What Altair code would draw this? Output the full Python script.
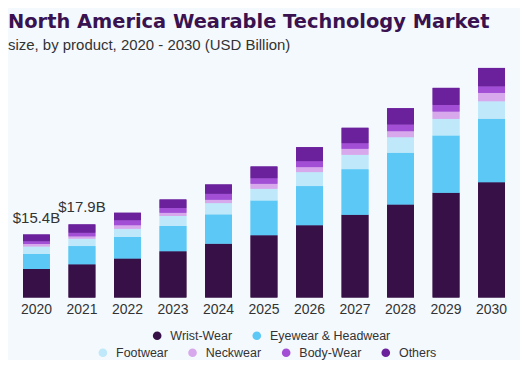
import altair as alt
import pandas as pd

years = ["2020", "2021", "2022", "2023", "2024", "2025", "2026", "2027", "2028", "2029", "2030"]
series = ["Wrist-Wear", "Eyewear & Headwear", "Footwear", "Neckwear", "Body-Wear", "Others"]
colors = ["#371047", "#5bc8f5", "#bfe8fa", "#d7a9ec", "#a24fd6", "#6b209c"]

wrist = [7.00, 8.14, 9.54, 11.32, 13.20, 15.23, 17.68, 20.29, 22.81, 25.67, 28.26]
eyewear = [3.67, 4.47, 5.28, 6.19, 7.16, 8.56, 9.61, 11.15, 12.64, 14.01, 15.50]
footwear = [1.81, 1.81, 2.05, 2.44, 2.76, 2.86, 3.42, 3.52, 3.81, 4.08, 4.30]
neckwear = [0.64, 0.56, 0.81, 0.81, 0.83, 1.22, 1.22, 1.47, 1.47, 1.78, 2.05]
bodywear = [0.66, 0.90, 1.22, 1.15, 1.47, 1.37, 1.47, 1.37, 1.64, 1.64, 1.61]
others = [1.64, 2.03, 1.88, 2.13, 2.27, 2.86, 3.42, 3.77, 3.99, 4.16, 4.50]
annotations = ["$15.4B", "$17.9B", "", "", "", "", "", "", "", "", ""]

values = [wrist, eyewear, footwear, neckwear, bodywear, others]
rows = []
for si, (s, vals) in enumerate(zip(series, values)):
    for y, v in zip(years, vals):
        rows.append({"year": y, "product": s, "value": v, "idx": si})
df = pd.DataFrame(rows)

totals = [sum(v[i] for v in values) for i in range(len(years))]
df_lab = pd.DataFrame({"year": years, "total": totals, "label": annotations})

FONT = "Liberation Sans"
BG = "#f3f9fd"

x_enc = alt.X("year:N", scale=alt.Scale(paddingInner=0.41, paddingOuter=0.33),
              axis=alt.Axis(title=None, labelAngle=0, domain=False, ticks=False,
                            labelFontSize=14, labelFont=FONT, labelColor="#333333",
                            labelPadding=5))
y_enc = alt.Y("value:Q", stack="zero", axis=None,
              scale=alt.Scale(domain=[0, 60], nice=False))


def legend(vals, lx, ly):
    return alt.Legend(values=vals, orient="none", legendX=lx, legendY=ly,
                      direction="horizontal", title=None, symbolType="circle",
                      symbolSize=75, symbolStrokeWidth=0, labelFontSize=12.5,
                      labelFont=FONT, labelColor="#333333", columnPadding=18,
                      labelOffset=7, padding=0)


base = alt.Chart(df)
bars1 = base.mark_bar().encode(
    x=x_enc, y=y_enc,
    color=alt.Color("product:N", scale=alt.Scale(domain=series, range=colors),
                    legend=legend(series[:2], 143.5, 278)),
    order=alt.Order("idx:Q", sort="ascending"),
)
bars2 = base.mark_bar().encode(
    x=x_enc, y=y_enc,
    color=alt.Color("product:N", scale=alt.Scale(domain=series, range=colors),
                    legend=legend(series[2:], 89, 295)),
    order=alt.Order("idx:Q", sort="ascending"),
)
labels = alt.Chart(df_lab).mark_text(baseline="bottom", dy=-9, fontSize=15, font=FONT,
                                     color="#333333").encode(
    x=alt.X("year:N"), y=alt.Y("total:Q"), text="label:N")

chart = alt.layer(bars1, bars2, labels).resolve_scale(color="independent").properties(
    width=514, height=246,
    padding={"left": 0, "top": 3, "right": 0, "bottom": 0},
    background=BG,
    title=alt.TitleParams(
        text="North America Wearable Technology Market",
        subtitle="size, by product, 2020 - 2030 (USD Billion)",
        anchor="start", font="DejaVu Sans", fontSize=19.5, fontWeight="bold",
        color="#3a1250", subtitleFont=FONT, subtitleFontSize=15,
        subtitleColor="#333333", subtitlePadding=5.5, offset=-10,
    ),
).configure_view(stroke=None)

chart.save("out.html", embed_options={"renderer": "svg", "actions": False})
